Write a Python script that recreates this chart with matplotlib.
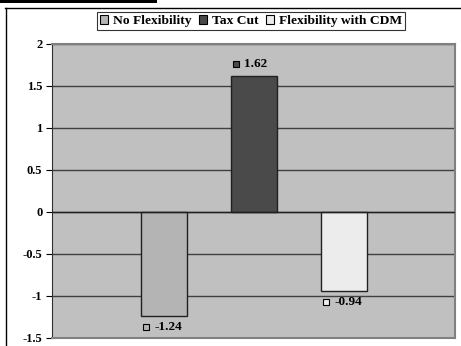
import matplotlib.pyplot as plt
from matplotlib.transforms import offset_copy
from matplotlib.lines import Line2D
from matplotlib.patches import Rectangle

series = ["No Flexibility", "Tax Cut", "Flexibility with CDM"]
values = [-1.24, 1.62, -0.94]
colors = ["#b4b4b4", "#4a4a4a", "#ececec"]
yticks = [-1.5, -1, -0.5, 0, 0.5, 1, 1.5, 2]
ytick_labels = ["-1.5", "-1", "-0.5", "0", "0.5", "1", "1.5", "2"]

plt.rcParams["font.family"] = "Liberation Serif"
plt.rcParams["font.weight"] = "bold"

fig = plt.figure(figsize=(4.61, 3.46), dpi=100)
ax = fig.add_axes([52 / 461, 8 / 346, 403 / 461, 294 / 346])
ax.set_facecolor("#c0c0c0")

# grid lines at each major tick
for t in yticks[1:]:
    ax.axhline(t, color="#404040", lw=1.0, zorder=1)
ax.axhline(0, color="#202020", lw=1.0, zorder=3)

xs = range(len(values))
ax.bar(xs, values, width=0.51, color=colors, edgecolor="#202020", linewidth=1.0, zorder=2)

# value labels with small key squares
for x, v, c in zip(xs, values, colors):
    dy = 8.5 if v > 0 else -8
    tr = offset_copy(ax.transData, fig=fig, x=-13, y=dy, units="points")
    ax.plot([x], [v], marker="s", ms=5, mfc=c, mec="black", mew=0.8,
            transform=tr, clip_on=False, zorder=5)
    tr2 = offset_copy(ax.transData, fig=fig, x=-7, y=dy, units="points")
    ax.text(x, v, "%.2f" % v, transform=tr2, ha="left", va="center",
            fontsize=9.5, fontweight="bold")

ax.set_xlim(-1.24, 3.23)
ax.set_ylim(-1.5, 2)
ax.set_yticks(yticks)
ax.set_yticklabels(ytick_labels)
ax.set_xticks([])
ax.tick_params(axis="y", direction="out", length=4, width=0.8, labelsize=9, pad=3)
for s in ["top", "right", "bottom"]:
    ax.spines[s].set_color("#808080")
    ax.spines[s].set_linewidth(1.5)
ax.spines["left"].set_color("#303030")
ax.spines["left"].set_linewidth(0.8)

handles = [Rectangle((0, 0), 1, 1, fc=c, ec="black", lw=0.8) for c in colors]
leg = fig.legend(handles, series, loc="center", bbox_to_anchor=(251 / 461, 1 - 21 / 346),
                 ncol=3, fontsize=9.7, frameon=True, handlelength=0.6, handleheight=0.6,
                 handletextpad=0.35, columnspacing=0.55, borderpad=0.25,
                 fancybox=False, edgecolor="black", borderaxespad=0)
leg.get_frame().set_linewidth(0.8)

# outer frame lines and top bar
fig.add_artist(Line2D([5 / 461, 1], [1 - 7.5 / 346] * 2, color="black", lw=1.0))
fig.add_artist(Line2D([5.5 / 461] * 2, [0, 1 - 7.5 / 346], color="black", lw=1.0))
fig.add_artist(Rectangle((0, 1 - 3 / 346), 157 / 461, 3 / 346, color="black", lw=0))

fig.savefig("out.png", dpi=100)
